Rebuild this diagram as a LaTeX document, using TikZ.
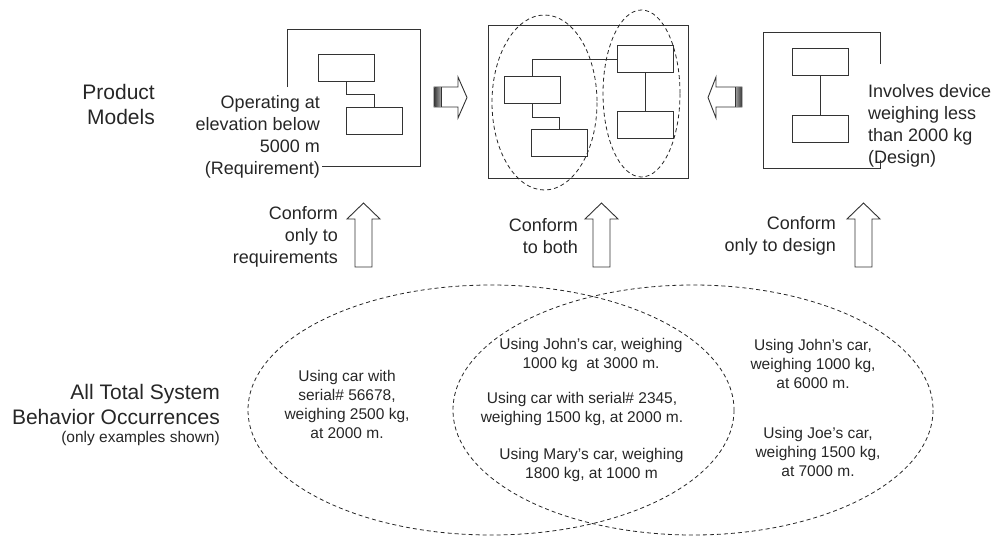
\documentclass[tikz,border=0pt]{standalone}
\usepackage{fontspec}
\setmainfont{Liberation Sans}
\usetikzlibrary{positioning}

\tikzset{
  frame/.style={draw=black!80,line width=0.9pt},
  blk/.style={draw=black!80,line width=0.9pt,minimum width=56pt,minimum height=27pt,inner sep=0pt},
  link/.style={draw=black!80,line width=0.9pt},
  scope line/.style={draw=black!85,line width=0.8pt,dash pattern=on 4pt off 3pt},
  txt/.style={text=black!85,font=\fontsize{18}{22}\selectfont,inner sep=0pt},
  bigtxt/.style={text=black!85,font=\fontsize{21}{25}\selectfont,inner sep=0pt},
  occ/.style={text=black!85,font=\fontsize{15.5}{19}\selectfont,align=center,inner sep=0pt},
  bigarrow/.style={draw=black!80,line width=0.9pt,fill=white},
}

\begin{document}
\begin{tikzpicture}[x=1pt,y=-1pt]
  \useasboundingbox (0,0) rectangle (995,536);

  % Requirement model
  \draw[frame] (287,87) -- (287,29) -- (420,29) -- (420,166) -- (322,166);
  \node[blk] (r1) at (346,67.5) {};
  \node[blk] (r2) at (374,120.5) {};
  \draw[link] (r1.south) -- ++(0,13) -| (r2.north);
  \node[txt,align=right,anchor=east] (req) at (320,137) {Operating at\\elevation below\\5000 m\\(Requirement)};

  % Combined model
  \draw[frame] (488,25) rectangle (688,178);
  \node[blk] (m1) at (532.5,90) {};
  \node[blk] (m2) at (559,143) {};
  \node[blk] (m3) at (645,59) {};
  \node[blk] (m4) at (645,125) {};
  \draw[link] (m1.north) |- (m3.west);
  \draw[link] (m1.south) -- ++(0,13) -| (m2.north);
  \draw[link] (m3.south) -- (m4.north);
  \draw[scope line] (544.5,102.5) ellipse [x radius=52.5,y radius=87.5];
  \draw[scope line] (641.5,93.5) ellipse [x radius=38.5,y radius=83.5];

  % Design model
  \draw[frame] (880,64) -- (880,32) -- (763,32) -- (763,168) -- (880,168) -- (880,160);
  \node[blk] (d1) at (820.5,62) {};
  \node[blk] (d2) at (820.5,129) {};
  \draw[link] (d1.south) -- (d2.north);
  \node[txt,align=left,anchor=west] (des) at (868,125.5) {Involves device\\weighing less\\than 2000 kg\\(Design)};

  % Merge arrows
  \draw[bigarrow] (434,87) -- (458,87) -- (458,77) -- (467,97.5) -- (458,118) -- (458,107) -- (434,107) -- cycle;
  \shade[left color=black!75,right color=black!35] (434.5,87.5) rectangle (441,106.5);
  \draw[link] (441,87) -- (441,107);
  \draw[bigarrow] (742,87) -- (716,87) -- (716,77) -- (708,97.5) -- (716,118) -- (716,107) -- (742,107) -- cycle;
  \shade[left color=black!35,right color=black!75] (735,87.5) rectangle (741.5,106.5);
  \draw[link] (735,87) -- (735,107);

  % Conformance arrows
  \foreach \ax in {363.5,601.5,863.5}
    \draw[bigarrow] (\ax-8.5,267) -- (\ax-8.5,219) -- (\ax-16.5,219) -- (\ax,203)
      -- (\ax+16.5,219) -- (\ax+8.5,219) -- (\ax+8.5,267) -- cycle;
  \node[txt,align=right,anchor=east] (cr) at (338,236.5) {Conform\\only to\\requirements};
  \node[txt,align=right,anchor=east] (cb) at (578,236) {Conform\\to both};
  \node[txt,align=right,anchor=east] (cd) at (836,236) {Conform\\only to design};

  % Row titles
  \node[bigtxt,align=right,anchor=east] (pm) at (155,104.5) {Product\\Models};
  \node[bigtxt,align=right,anchor=east] (all) at (220,404.5) {All Total System\\Behavior Occurrences};
  \node[occ,align=right,below=6pt of all.south east,anchor=north east] (ex) {(only examples shown)};

  % Occurrence sets
  \draw[scope line] (491,410) ellipse [x radius=243,y radius=125];
  \draw[scope line] (693,410) ellipse [x radius=240,y radius=125];
  \node[occ] (o1) at (347,404) {Using car with\\serial\# 56678,\\weighing 2500 kg,\\at 2000 m.};
  \node[occ] (o2) at (591,355) {Using John's car, weighing\\1000 kg~ at 3000 m.};
  \node[occ] (o3) at (582,409) {Using car with serial\# 2345,\\weighing 1500 kg, at 2000 m.};
  \node[occ] (o4) at (591.5,465) {Using Mary's car, weighing\\1800 kg, at 1000 m};
  \node[occ] (o5) at (813,364) {Using John's car,\\weighing 1000 kg,\\at 6000 m.};
  \node[occ] (o6) at (818,451.5) {Using Joe's car,\\weighing 1500 kg,\\at 7000 m.};
\end{tikzpicture}
\end{document}
